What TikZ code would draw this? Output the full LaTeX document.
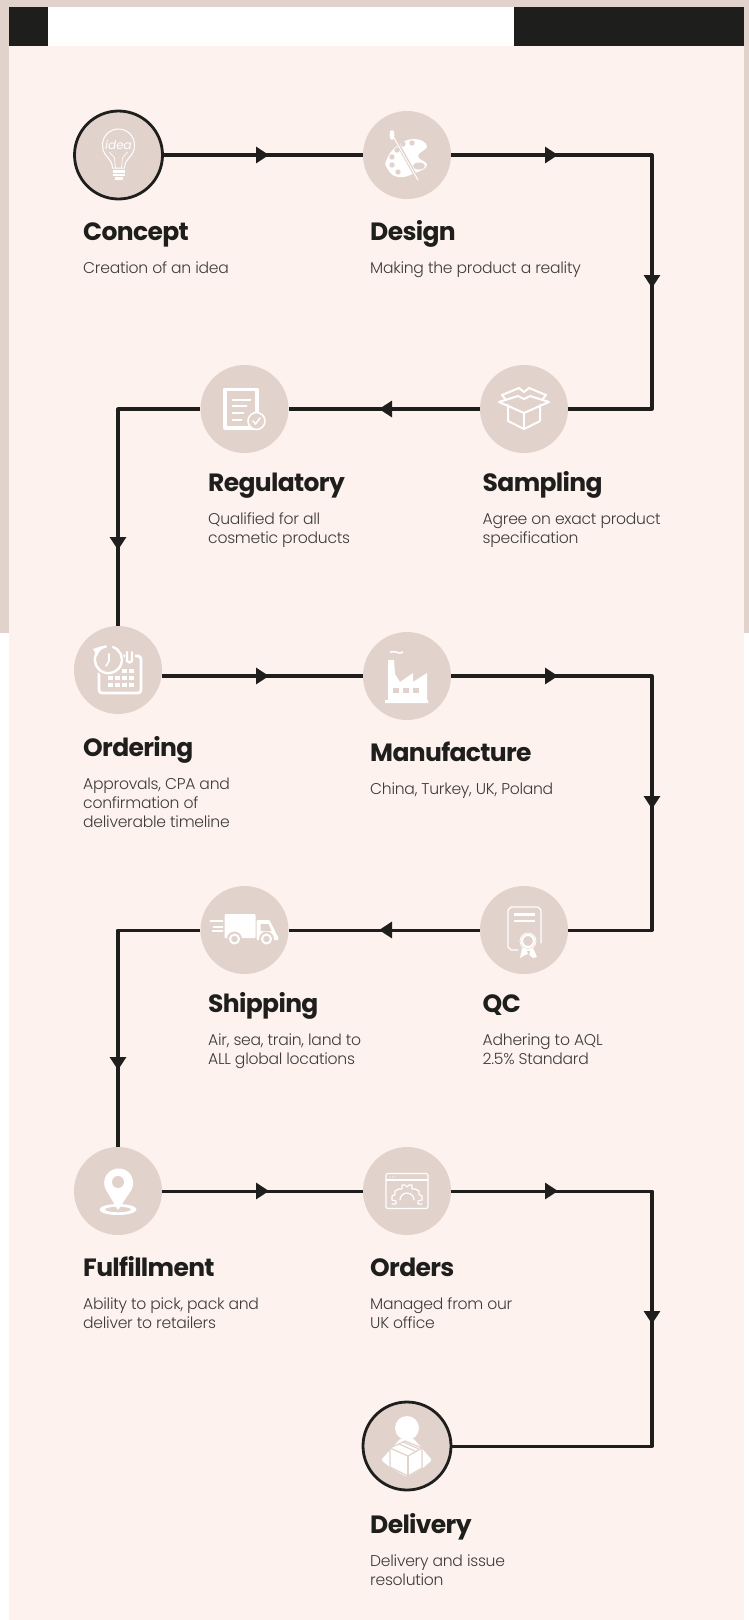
\documentclass[tikz,border=0pt]{standalone}
\usepackage{fontspec}
\usetikzlibrary{arrows.meta}
\setmainfont{Poppins}
\newfontfamily\titlefont[LetterSpace=-2.6]{Poppins Bold}
\newfontfamily\copyfont[LetterSpace=-1.7]{Poppins Light}
\definecolor{shell}{HTML}{E2D2CC}
\definecolor{cream}{HTML}{FEF2EE}
\definecolor{ink}{HTML}{1E1E1C}
\definecolor{copy}{HTML}{3C3C3A}
\tikzset{
  stage/.style={circle, fill=shell, minimum size=88pt, inner sep=0pt},
  endstage/.style={stage, draw=ink, line width=2.8pt},
  titletext/.style={anchor=base west, inner sep=0pt, text=ink, font=\titlefont\fontsize{25}{30}\selectfont},
  copytext/.style={anchor=base west, inner sep=0pt, text=copy, align=left, font=\copyfont\fontsize{15.6}{18.7}\selectfont},
  flowbase/.style={draw=ink, line width=3.02pt, line join=round},
  flowline/.style={flowbase, shorten <=-4pt},
  flowarrow/.style={flowbase, -{Triangle[length=13pt,width=16pt]}},
  flowbend/.style={flowarrow, shorten <=-4pt},
  iconline/.style={draw=white, line width=1.4pt, line join=round, line cap=round}
}
\begin{document}
\begin{tikzpicture}[x=1pt,y=-1pt]
\useasboundingbox (0,0) rectangle (749,1620);
\fill[white] (0,0) rectangle (749,1620);
\fill[shell] (0,0) rectangle (749,633);
\fill[cream] (9,7) rectangle (744,1620);
\fill[white] (48,7) rectangle (514,46);
\fill[ink] (9,7) rectangle (48,46);
\fill[ink] (514,7) rectangle (744,46);

\node[endstage] (concept) at (118.5,155) {};
\node[stage] (design) at (407,155) {};
\node[stage] (sampling) at (524,409) {};
\node[stage] (regulatory) at (244.5,409) {};
\node[stage] (ordering) at (118,670) {};
\node[stage] (manufacture) at (407,676) {};
\node[stage] (qc) at (524,930) {};
\node[stage] (shipping) at (244.5,930) {};
\node[stage] (fulfillment) at (118,1191) {};
\node[stage] (orders) at (407,1191) {};
\node[endstage] (delivery) at (407,1446) {};

\coordinate (tipA) at (269,155);
\coordinate (tipB) at (558,155);
\coordinate (tipC) at (652,288);
\coordinate (tipD) at (379,409);
\coordinate (tipE) at (118,550);
\coordinate (tipF) at (269,676);
\coordinate (tipG) at (558,676);
\coordinate (tipH) at (652,809);
\coordinate (tipI) at (379,930);
\coordinate (tipJ) at (118,1070);
\coordinate (tipK) at (269,1191);
\coordinate (tipL) at (558,1191);
\coordinate (tipM) at (652,1324);

\draw[flowarrow] (concept) -- (tipA);
\draw[flowline] (tipA) -- (design);
\draw[flowarrow] (design) -- (tipB);
\draw[flowbend] (tipB) -| (tipC);
\draw[flowline] (tipC) |- (sampling);
\draw[flowarrow] (sampling) -- (tipD);
\draw[flowline] (tipD) -- (regulatory);
\draw[flowarrow] (regulatory) -| (tipE);
\draw[flowline] (tipE) -- (ordering);
\draw[flowarrow] (ordering.east |- tipF) -- (tipF);
\draw[flowline] (tipF) -- (manufacture);
\draw[flowarrow] (manufacture) -- (tipG);
\draw[flowbend] (tipG) -| (tipH);
\draw[flowline] (tipH) |- (qc);
\draw[flowarrow] (qc) -- (tipI);
\draw[flowline] (tipI) -- (shipping);
\draw[flowarrow] (shipping) -| (tipJ);
\draw[flowline] (tipJ) -- (fulfillment);
\draw[flowarrow] (fulfillment) -- (tipK);
\draw[flowline] (tipK) -- (orders);
\draw[flowarrow] (orders) -- (tipL);
\draw[flowbend] (tipL) -| (tipM);
\draw[flowline] (tipM) |- (delivery);

\node[titletext] (conceptTitle) at (83,240) {Concept};
\node[copytext] (conceptCopy) at (83,273) {Creation of an idea};
\node[titletext] (designTitle) at (370,240) {Design};
\node[copytext] (designCopy) at (370,273) {Making the product a reality};
\node[titletext] (samplingTitle) at (482.5,491) {Sampling};
\node[copytext] (samplingCopy) at (482.5,543) {Agree on exact product\\specification};
\node[titletext] (regulatoryTitle) at (208,491) {Regulatory};
\node[copytext] (regulatoryCopy) at (208,543) {Qualified for all\\cosmetic products};
\node[titletext] (orderingTitle) at (83,756) {Ordering};
\node[copytext] (orderingCopy) at (83,827) {Approvals, CPA and\\confirmation of\\deliverable timeline};
\node[titletext] (manufactureTitle) at (370,761) {Manufacture};
\node[copytext] (manufactureCopy) at (370,794) {China, Turkey, UK, Poland};
\node[titletext] (qcTitle) at (482.5,1012) {QC};
\node[copytext] (qcCopy) at (482.5,1064) {Adhering to AQL\\2.5\% Standard};
\node[titletext] (shippingTitle) at (208,1012) {Shipping};
\node[copytext] (shippingCopy) at (208,1064) {Air, sea, train, land to\\ALL global locations};
\node[titletext] (fulfillmentTitle) at (83,1276) {Fulfillment};
\node[copytext] (fulfillmentCopy) at (83,1328) {Ability to pick, pack and\\deliver to retailers};
\node[titletext] (ordersTitle) at (370,1276) {Orders};
\node[copytext] (ordersCopy) at (370,1328) {Managed from our\\UK office};
\node[titletext] (deliveryTitle) at (370,1533) {Delivery};
\node[copytext] (deliveryCopy) at (370,1585.5) {Delivery and issue\\resolution};

\begin{scope}[shift={(concept.center)}]
  \draw[iconline, line width=1pt] (-6,13) .. controls (-6,3) and (-16,2) .. (-16,-10) arc[start angle=180,end angle=360,radius=16] .. controls (16,2) and (6,3) .. (6,13) -- cycle;
  \draw[iconline, line width=.7pt] (-3,13) -- (-4,3) -- (-9,-3);
  \draw[iconline, line width=.7pt] (3,13) -- (4,3) -- (9,-3);
  \fill[white] (-6,15) rectangle (6,17.5);
  \fill[white] (-6,18.5) rectangle (6,21);
  \fill[white] (-4,22) rectangle (4,25);
  \node[text=white, inner sep=0pt, font=\rmfamily\itshape\fontsize{12}{12}\selectfont] (ideaWord) at (0,-10) {idea};
\end{scope}

\begin{scope}[shift={(design.center)}]
  \fill[white] plot[smooth cycle, tension=.8] coordinates {(-20,4) (-10,-9) (7,-16) (20,-9) (11,1) (20,10) (8,18) (-9,22) (-20,13)};
  \foreach \px/\py in {5/-12, -4/-11, -10/-5, -15/2, -15/10, -9/17}
    \fill[shell] (\px,\py) circle[radius=2.7];
  \fill[shell] (12,11) ellipse[x radius=6,y radius=3.5];
  \draw[shell, line width=3.4pt] (-12,-16) -- (11,25);
  \draw[white, line width=1pt] (-17,-24) -- (11,25);
  \fill[white] (-15,-20) ellipse[x radius=2.4,y radius=5];
\end{scope}

\begin{scope}[shift={(regulatory.center)}]
  \draw[iconline, line width=3.2pt] (-19.5,-19.5) rectangle (12.5,19);
  \foreach \py/\pw in {-9/6, -3/2, 4/-1, 11/-3}
    \draw[iconline, line width=2pt] (-12,\py) -- (\pw,\py);
  \draw[iconline, fill=shell, line width=1.6pt] (12,12) circle[radius=8.5];
  \draw[iconline, line width=1.6pt] (8.5,12) -- (11,15) -- (15.5,9);
\end{scope}

\begin{scope}[shift={(sampling.center)}]
  \draw[iconline, line width=2pt] (-16,-4) -- (-16,12) -- (0,20) -- (16,12) -- (16,-4);
  \draw[iconline, line width=2pt] (0,4) -- (0,20);
  \draw[iconline, line width=2pt] (-25,-7) -- (-18,-4) -- (0,4) -- (18,-4) -- (25,-7) -- (6,-13) -- (0,-10) -- (-6,-13) -- cycle;
  \draw[iconline, line width=2pt] (-22,-14) -- (-5,-21) -- (0,-17) -- (5,-21) -- (22,-14) -- (18,-9);
  \draw[iconline, line width=2pt] (-22,-14) -- (-18,-9);
\end{scope}

\begin{scope}[shift={(ordering.center)}]
  \draw[iconline, line width=2.8pt, rounded corners=3pt] (-19,-4) -- (-19,23) -- (23,23) -- (23,-14) -- (-4,-14);
  \fill[shell] (-10,-10) circle[radius=16];
  \fill[shell] (7,-19) rectangle (17,-6);
  \draw[iconline, line width=2.4pt] (9,-18) -- (9,-9) .. controls (10,-7) and (13,-7) .. (14,-9) -- (14,-18);
  \draw[iconline, line width=2.4pt] (-5,-23) arc[start angle=290,end angle=620,radius=13.5];
  \fill[white] (-25,-21) -- (-16,-24) -- (-21,-14) -- cycle;
  \draw[iconline, line width=1.6pt] (-9,-16) -- (-9,-9) -- (-12,-4);
  \foreach \px in {-8,-1,6,13} \foreach \py in {8,15}
    \fill[white] (\px-2.5,\py-2) rectangle (\px+2.5,\py+2);
  \foreach \px in {6,13}
    \fill[white] (\px-2.5,-1) rectangle (\px+2.5,3);
\end{scope}

\begin{scope}[shift={(manufacture.center)}]
  \fill[white] (-22,24) -- (-22,27) -- (21,27) -- (21,24) -- (20,24) -- (20,-3) -- (6,6) -- (6,-3) -- (-7,6) -- (-12,-2) -- (-13,-16) -- (-19,-16) -- (-19,24) -- cycle;
  \foreach \px in {-11,-1,9}
    \fill[shell] (\px-3,12) rectangle (\px+3,17);
  \draw[white, line width=1.6pt] (-17,-24) .. controls (-12,-26) and (-8,-21) .. (-4,-24);
\end{scope}

\begin{scope}[shift={(qc.center)}]
  \draw[iconline] (-6,20) -- (-13,20) -- (-16,17) -- (-16,-20) -- (-13,-23) -- (14,-23) -- (17,-20) -- (17,13);
  \fill[white] (-10,-17) rectangle (11,-14.5);
  \fill[white] (-10,-10.5) rectangle (11,-8);
  \fill[white] (-2,18) -- (-4,28) -- (1,25) -- (4,24) -- (9,28) -- (13,27) -- (9,18) -- cycle;
  \fill[shell] (4,11) circle[radius=8.5];
  \draw[iconline, line width=2pt] (4,11) circle[radius=6];
  \draw[white, line width=.8pt] (4,11) circle[radius=8];
  \fill[shell] (3,21) -- (5,27) -- (6,21) -- cycle;
\end{scope}

\begin{scope}[shift={(shipping.center)}]
  \fill[white, rounded corners=1pt] (-20,-16) rectangle (11,8);
  \fill[white, rounded corners=1pt] (12,-10) -- (25,-10) -- (34,8) -- (34,10) -- (12,10) -- cycle;
  \fill[shell] (16,-6) -- (24,-6) -- (27,1) -- (16,1) -- cycle;
  \foreach \py/\pstart in {-9/-34, -3/-31, 1/-32}
    \draw[iconline, line width=2pt] (\pstart,\py) -- (-22,\py);
  \foreach \px in {-10,22} {
    \fill[shell] (\px,9) circle[radius=7.5];
    \draw[iconline, line width=2pt] (\px,9) circle[radius=4.5];
  }
\end{scope}

\begin{scope}[shift={(fulfillment.center)}]
  \fill[white, even odd rule] (0,18.5) ellipse[x radius=18.5,y radius=5.5] (0,18.5) ellipse[x radius=13,y radius=2.8];
  \fill[white] (0,19) -- (-12,-1) arc[start angle=151,end angle=389,radius=14.5] -- cycle;
  \fill[shell] (0,-9) circle[radius=6];
\end{scope}

\begin{scope}[shift={(orders.center)}]
  \draw[iconline, line width=1.2pt, rounded corners=2pt] (-21,-17.5) rectangle (21,17.5);
  \draw[iconline, line width=1.2pt] (-21,-11) -- (21,-11);
  \foreach \px in {-17,-14.5,-12}
    \fill[white] (\px,-14) circle[radius=.7];
  \draw[iconline, line width=1.2pt] (-15,13) -- (-11,13) -- (-11,10) -- (-15,9) -- (-15,5) -- (-12,3.5) -- (-12,0) -- (-8,-2) -- (-5,-2) -- (-5,-6) -- (-2,-6) -- (0,-4) -- (2,-6) -- (5,-6) -- (5,-2) -- (8,-2) -- (12,0) -- (12,3.5) -- (15,5) -- (15,9) -- (11,10) -- (11,13) -- (15,13);
  \draw[iconline, line width=1.2pt] (-7,9) arc[start angle=180,end angle=360,radius=7];
\end{scope}

\begin{scope}[shift={(delivery.center)}]
  \fill[white] (0,-18) circle[radius=12];
  \fill[white, rounded corners=2pt] (-6,-8) -- (6,-8) -- (25,14) -- (16,22) -- (0,31) -- (-16,22) -- (-26,14) -- cycle;
  \draw[shell, line width=1.2pt, fill=white, line join=round] (-17,2) -- (-2,-5) -- (15,2) -- (15,22) -- (1,30) -- (-17,21) -- cycle;
  \draw[shell, line width=1.2pt] (-17,2) -- (1,10) -- (15,2);
  \draw[shell, line width=1.2pt] (1,10) -- (1,30);
  \draw[shell, line width=1.2pt] (-8,-2) -- (8,5);
  \draw[shell, line width=1.2pt] (-4,-4) -- (12,3);
\end{scope}
\end{tikzpicture}
\end{document}
